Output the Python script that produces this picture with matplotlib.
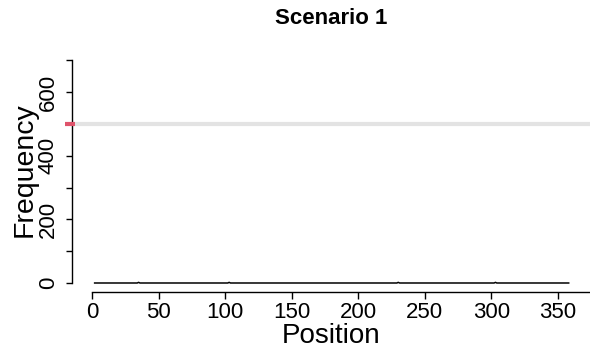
import numpy as np
import matplotlib
matplotlib.use("Agg")
from matplotlib import pyplot as plt

plt.rcParams['font.family'] = ['Liberation Sans', 'DejaVu Sans']

# frequency of each position along the sequence (almost all zero)
positions = [2, 34, 35, 36, 102, 103, 104, 229, 230, 231, 302, 303, 304, 358]
freq = [0, 0, 2, 0, 0, 2, 0, 0, 2, 0, 0, 2, 0, 0]

threshold = 500
x_ticks = [0, 50, 100, 150, 200, 250, 300, 350]
y_ticks = [0, 100, 200, 300, 400, 500, 600, 700]
y_labels = ['0', '', '200', '', '400', '', '600', '']

fig = plt.figure(figsize=(5.9, 3.5), dpi=100)
ax = fig.add_axes([72 / 590, 58 / 350, 518 / 590, 232 / 350])

ax.set_xlim(-15, 374)
ax.set_ylim(-28.3, 700.6)

ax.axhline(threshold, color='#e3e3e3', lw=3, zorder=1)
ax.plot(positions, freq, color='black', lw=1.1, zorder=2)

for s in ['top', 'right']:
    ax.spines[s].set_visible(False)
ax.spines['left'].set_bounds(0, 700)
ax.spines['bottom'].set_bounds(0, 374)
ax.spines['left'].set_linewidth(1)
ax.spines['bottom'].set_linewidth(1)

ax.set_xticks(x_ticks)
ax.set_yticks(y_ticks)
ax.set_yticklabels(y_labels, rotation=90, va='center')
ax.tick_params(axis='x', length=5, width=1, pad=2, labelsize=16)
ax.tick_params(axis='y', length=4.5, width=1, pad=5, labelsize=16)

# red mark at the threshold on the y axis
ax.plot([-20, -12.5], [threshold, threshold], color='#DF536B', lw=3,
        solid_capstyle='butt', clip_on=False, zorder=3)

ax.set_xlabel('Position', fontsize=20)
ax.set_ylabel('Frequency', fontsize=20.5)
ax.xaxis.set_label_coords(0.5, -0.132)
ax.yaxis.set_label_coords(-0.066, 0.526)

fig.text(331 / 590, 1 - 19 / 350, 'Scenario 1', ha='center', va='center',
         fontsize=16, fontweight='bold')

fig.savefig('out.png', dpi=100)
